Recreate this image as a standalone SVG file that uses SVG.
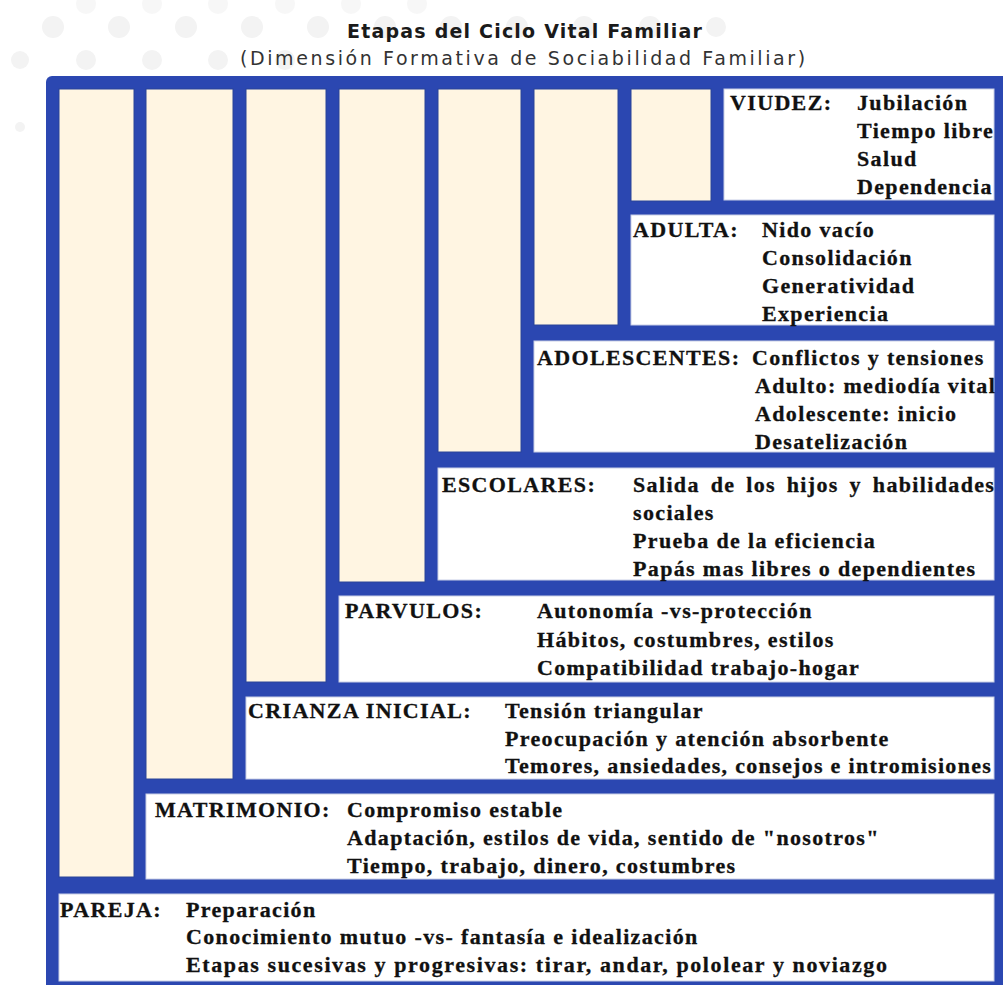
<svg xmlns="http://www.w3.org/2000/svg" width="1003" height="985" viewBox="0 0 1003 985">
<style>
.dot{fill:#f3f3f3}
.frame{fill:#2b47b1}
.col{fill:#fff5e2;stroke:#2a4498;stroke-width:1}
.box{fill:#ffffff;stroke:#c9cfe6;stroke-width:1}
.t{font-family:"Liberation Serif","Times New Roman",serif;font-weight:bold;font-size:22px;letter-spacing:1.35px;fill:#111;stroke:#111;stroke-width:0.3}
.title{font-family:"DejaVu Sans",Verdana,sans-serif;font-weight:bold;font-size:19px;letter-spacing:1.2px;fill:#1a1a1a}
.sub{font-family:"DejaVu Sans",Verdana,sans-serif;font-size:19px;letter-spacing:2.6px;fill:#333}
</style>
<rect width="1003" height="985" fill="#ffffff"/>
<g id="background-dots">
<g opacity="0.6">
<circle class="dot" cx="86" cy="4" r="10"/><circle class="dot" cx="152" cy="4" r="10"/><circle class="dot" cx="218" cy="4" r="10"/><circle class="dot" cx="285" cy="4" r="10"/><circle class="dot" cx="351" cy="4" r="10"/><circle class="dot" cx="417" cy="4" r="10"/>
</g>
<circle class="dot" cx="53" cy="27" r="11"/><circle class="dot" cx="119" cy="27" r="11"/><circle class="dot" cx="186" cy="27" r="11"/><circle class="dot" cx="252" cy="27" r="11"/><circle class="dot" cx="318" cy="27" r="11"/><circle class="dot" cx="385" cy="27" r="11"/><circle class="dot" cx="451" cy="27" r="11"/><circle class="dot" cx="517" cy="27" r="11"/><circle class="dot" cx="584" cy="27" r="11"/><circle class="dot" cx="650" cy="27" r="11"/><circle class="dot" cx="716" cy="27" r="10"/>
<circle class="dot" cx="20" cy="60" r="9"/><circle class="dot" cx="86" cy="60" r="10"/><circle class="dot" cx="152" cy="60" r="10"/><circle class="dot" cx="218" cy="60" r="10"/><circle class="dot" cx="285" cy="60" r="10"/>
<circle class="dot" cx="20" cy="127" r="5"/>
</g>
<g id="title">
<text class="title" x="347" y="38">Etapas del Ciclo Vital Familiar</text>
<text class="sub" x="240" y="65">(Dimensión Formativa de Sociabilidad Familiar)</text>
</g>
<rect id="frame" class="frame" x="46" y="76" width="970" height="920" rx="6"/>
<g id="viudez">
<rect class="box" x="724" y="89" width="270" height="111"/>
<text class="t" x="730" y="110">VIUDEZ:</text>
<text class="t" x="857" y="110">Jubilación</text>
<text class="t" x="857" y="138">Tiempo libre</text>
<text class="t" x="857" y="166">Salud</text>
<text class="t" x="857" y="194">Dependencia</text>
</g>
<g id="adulta">
<rect class="col" x="631" y="89" width="80" height="112"/>
<rect class="box" x="631" y="215" width="363" height="110"/>
<text class="t" x="633" y="237">ADULTA:</text>
<text class="t" x="762" y="237">Nido vacío</text>
<text class="t" x="762" y="265">Consolidación</text>
<text class="t" x="762" y="293">Generatividad</text>
<text class="t" x="762" y="321">Experiencia</text>
</g>
<g id="adolescentes">
<rect class="col" x="534" y="89" width="84" height="236"/>
<rect class="box" x="534" y="341" width="460" height="111"/>
<text class="t" x="537" y="365">ADOLESCENTES:</text>
<text class="t" x="752" y="365">Conflictos y tensiones</text>
<text class="t" x="755" y="393">Adulto: mediodía vital</text>
<text class="t" x="755" y="421">Adolescente: inicio</text>
<text class="t" x="755" y="449">Desatelización</text>
</g>
<g id="escolares">
<rect class="col" x="438" y="89" width="83" height="363"/>
<rect class="box" x="438" y="468" width="556" height="112"/>
<text class="t" x="442" y="492">ESCOLARES:</text>
<text class="t" x="633" y="492" word-spacing="4">Salida de los hijos y habilidades</text>
<text class="t" x="633" y="520">sociales</text>
<text class="t" x="633" y="548">Prueba de la eficiencia</text>
<text class="t" x="633" y="576">Papás mas libres o dependientes</text>
</g>
<g id="parvulos">
<rect class="col" x="339" y="89" width="86" height="493"/>
<rect class="box" x="339" y="596" width="655" height="86"/>
<text class="t" x="345" y="618">PARVULOS:</text>
<text class="t" x="537" y="618">Autonomía -vs-protección</text>
<text class="t" x="537" y="647">Hábitos, costumbres, estilos</text>
<text class="t" x="537" y="675">Compatibilidad trabajo-hogar</text>
</g>
<g id="crianza-inicial">
<rect class="col" x="246" y="89" width="80" height="593"/>
<rect class="box" x="246" y="697" width="748" height="82"/>
<text class="t" x="248" y="718">CRIANZA INICIAL:</text>
<text class="t" x="505" y="718">Tensión triangular</text>
<text class="t" x="505" y="746">Preocupación y atención absorbente</text>
<text class="t" x="505" y="773" style="letter-spacing:1.3px">Temores, ansiedades, consejos e intromisiones</text>
</g>
<g id="matrimonio">
<rect class="col" x="146" y="89" width="87" height="690"/>
<rect class="box" x="146" y="794" width="848" height="85"/>
<text class="t" x="155" y="817">MATRIMONIO:</text>
<text class="t" x="347" y="817">Compromiso estable</text>
<text class="t" x="347" y="845">Adaptación, estilos de vida, sentido de "nosotros"</text>
<text class="t" x="347" y="873">Tiempo, trabajo, dinero, costumbres</text>
</g>
<g id="pareja">
<rect class="col" x="59" y="89" width="75" height="788"/>
<rect class="box" x="59" y="894" width="935" height="87"/>
<text class="t" x="60" y="917">PAREJA:</text>
<text class="t" x="186" y="917">Preparación</text>
<text class="t" x="186" y="944">Conocimiento mutuo -vs- fantasía e idealización</text>
<text class="t" x="186" y="972" style="letter-spacing:1.6px">Etapas sucesivas y progresivas: tirar, andar, pololear y noviazgo</text>
</g>
<g id="connectors"></g>
</svg>
